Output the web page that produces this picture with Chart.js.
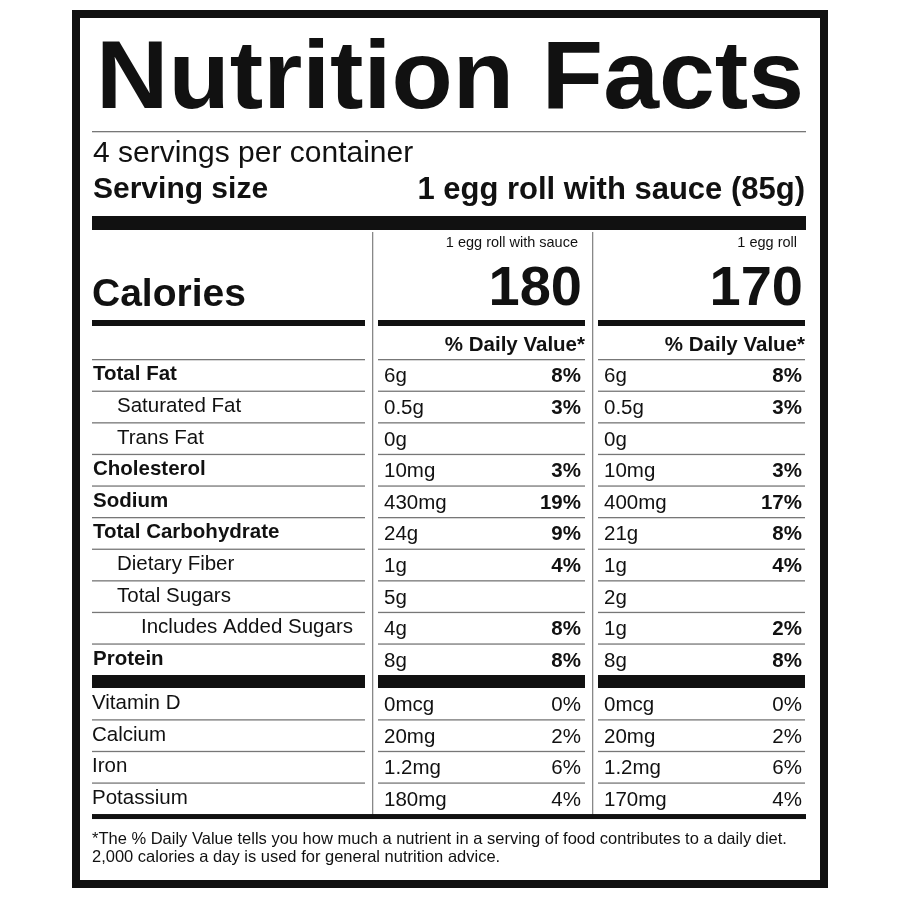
<!DOCTYPE html>
<html><head><meta charset="utf-8">
<script src="https://cdn.jsdelivr.net/npm/chart.js@4"></script>
<style>html,body{margin:0;background:#fff}canvas{display:block}</style>
</head><body><canvas id="c" width="900" height="900"></canvas>
<script>
const nutrients=["Total Fat","Saturated Fat","Trans Fat","Cholesterol","Sodium","Total Carbohydrate","Dietary Fiber","Total Sugars","Includes Added Sugars","Protein"];
const indent=[0,1,1,0,0,0,1,1,2,0];
const bold=[1,0,0,1,1,1,0,0,0,1];
const amtSauce=["6g","0.5g","0g","10mg","430mg","24g","1g","5g","4g","8g"];
const dvSauce=["8%","3%","","3%","19%","9%","4%","","8%","8%"];
const amtRoll=["6g","0.5g","0g","10mg","400mg","21g","1g","2g","1g","8g"];
const dvRoll=["8%","3%","","3%","17%","8%","4%","","2%","8%"];
const vitamins=["Vitamin D","Calcium","Iron","Potassium"];
const vitSauce=["0mcg","20mg","1.2mg","180mg"];
const vitSauceDv=["0%","2%","6%","4%"];
const vitRoll=["0mcg","20mg","1.2mg","170mg"];
const vitRollDv=["0%","2%","6%","4%"];
const calories=[180,170];
const colHeads=["1 egg roll with sauce","1 egg roll"];
const F="'Liberation Sans', Arial, sans-serif";
const label={id:'label',afterDraw(ch){
 const c=ch.ctx, ys=ch.scales.y;
 const L=92,R=806,c1=[92,365],c2=[378,585],c3=[598,805];
 c.save();c.fillStyle='#fff';c.fillRect(0,0,900,900);
 c.fillStyle='#111';c.fillRect(72,10,756,878);c.fillStyle='#fff';c.fillRect(80,18,740,862);
 c.fillStyle='#111';c.strokeStyle='#111';
 const bar=(x0,x1,y,h)=>c.fillRect(x0,y,x1-x0,h);
 const line=(x0,x1,y,col='#777')=>{c.fillStyle=col;c.fillRect(x0,y,x1-x0,1.3);c.fillStyle='#111';};
 c.font="bold 96px "+F;const w=c.measureText("Nutrition Facts").width;
 c.save();c.translate(96,108);c.scale(708/w,1);c.textBaseline='alphabetic';c.fillText("Nutrition Facts",0,0);c.restore();
 line(L,R,131);
 c.textBaseline='middle';
 c.font="30px "+F;c.fillText("4 servings per container",93,154);
 c.font="bold 30px "+F;c.fillText("Serving size",93,190);
 c.textAlign='right';c.font="bold 31px "+F;c.fillText("1 egg roll with sauce (85g)",805,190);
 bar(L,R,216,14);
 c.fillStyle='#888';c.fillRect(372,232,1.3,583);c.fillRect(592,232,1.3,583);c.fillStyle='#111';
 c.font="14.5px "+F;c.fillText(colHeads[0],578,243);c.fillText(colHeads[1],797,243);
 c.font="bold 56px "+F;c.fillText(String(calories[0]),582,290);c.fillText(String(calories[1]),803,290);
 c.textAlign='left';c.font="bold 39px "+F;c.fillText("Calories",92,295);
 [c1,c2,c3].forEach(a=>bar(a[0],a[1],320,6));
 c.textAlign='right';c.font="bold 20.5px "+F;c.fillText("% Daily Value*",585,345);c.fillText("% Daily Value*",805,345);
 const rowLines=(y)=>{[c1,c2,c3].forEach(a=>line(a[0],a[1],y));};
 const top=ys.getPixelForValue(0);rowLines(top);
 const FS="20.5px ";
 nutrients.forEach((n,i)=>{
  const y0=ys.getPixelForValue(i),y1=ys.getPixelForValue(i+1),ym=(y0+y1)/2;
  c.textAlign='left';c.font=(bold[i]?"bold ":"")+FS+F;c.fillText(n,93+indent[i]*24,ym);
  c.font=FS+F;c.fillText(amtSauce[i],384,ym+2);c.fillText(amtRoll[i],604,ym+2);
  c.textAlign='right';c.font="bold "+FS+F;c.fillText(dvSauce[i],581,ym+2);c.fillText(dvRoll[i],802,ym+2);
  if(i<nutrients.length-1)rowLines(y1);
 });
 const yb=ys.getPixelForValue(10);[c1,c2,c3].forEach(a=>bar(a[0],a[1],yb,13));
 vitamins.forEach((n,i)=>{
  const y0=ys.getPixelForValue(10.4+i),y1=ys.getPixelForValue(11.4+i),ym=(y0+y1)/2;
  c.textAlign='left';c.font=FS+F;c.fillText(n,92,ym);
  c.fillText(vitSauce[i],384,ym+2);c.fillText(vitRoll[i],604,ym+2);
  c.textAlign='right';c.fillText(vitSauceDv[i],581,ym+2);c.fillText(vitRollDv[i],802,ym+2);
  if(i<vitamins.length-1)rowLines(y1);
 });
 bar(L,R,ys.getPixelForValue(14.4),5);
 c.textAlign='left';c.font="16.5px "+F;
 c.fillText("*The % Daily Value tells you how much a nutrient in a serving of food contributes to a daily diet.",92,839);
 c.fillText("2,000 calories a day is used for general nutrition advice.",92,857);
 c.restore();
}};
new Chart(document.getElementById('c'),{type:'scatter',data:{datasets:[{data:[]}]},
 options:{responsive:false,animation:false,layout:{padding:0},plugins:{legend:{display:false},tooltip:{enabled:false}},
 scales:{x:{display:false,min:0,max:1},y:{display:false,reverse:true,min:-359/31.6,max:(900-359)/31.6}}},
 plugins:[label]});
</script></body></html>
